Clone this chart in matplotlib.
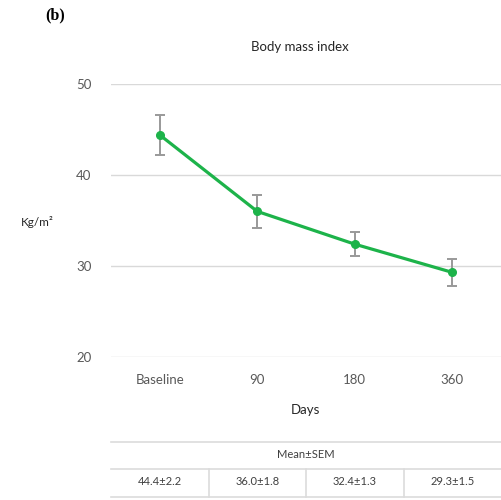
import matplotlib
matplotlib.use("Agg")
import matplotlib.pyplot as plt
import numpy as np

categories = ["Baseline", "90", "180", "360"]
means = [44.4, 36.0, 32.4, 29.3]
sems = [2.2, 1.8, 1.3, 1.5]
yticks = [20, 30, 40, 50]
table_header = "Mean±SEM"
table_values = ["44.4±2.2", "36.0±1.8", "32.4±1.3", "29.3±1.5"]

plt.rcParams['font.family'] = ['Lato', 'DejaVu Sans']

fig = plt.figure(figsize=(5.01, 5.0), dpi=100)
W, H = 501, 500
def fx(px): return px / W
def fy(py): return 1 - py / H

ax = fig.add_axes([fx(111), fy(357), fx(501) - fx(111), fy(84) - fy(357)])
x = np.arange(len(categories))
ax.errorbar(x, means, yerr=sems, fmt='none', ecolor='#999999', elinewidth=1.4,
            capsize=3.5, capthick=1.4, zorder=2)
ax.plot(x, means, color='#1db34a', lw=2.3, marker='o', ms=5.5, zorder=3)
ax.set_xlim(-0.5, 3.5)
ax.set_ylim(20, 50)
ax.set_yticks(yticks)
ax.set_xticks(x)
ax.set_xticklabels(categories)
ax.grid(axis='y', color='#d9d9d9', lw=1)
ax.set_axisbelow(True)
for s in ax.spines.values():
    s.set_visible(False)
ax.tick_params(length=0, labelsize=9.5, labelcolor='#595959', pad=14)
ax.tick_params(axis='x', pad=12)

fig.text(fx(300), fy(47), "Body mass index", ha='center', va='center', fontsize=9.5, color='#262626')
fig.text(fx(55), fy(15), "(b)", ha='center', va='center', fontsize=11.5, fontweight='bold',
         family=['Liberation Serif', 'DejaVu Serif'])
fig.text(fx(37), fy(222), "Kg/m²", ha='center', va='center', fontsize=8.5, color='#262626')
fig.text(fx(305), fy(410), "Days", ha='center', va='center', fontsize=9.5, color='#262626')

# table
tax = fig.add_axes([fx(111), fy(500), fx(501) - fx(111), fy(440) - fy(500)])
tax.set_xlim(-0.5, 3.5)
tax.set_ylim(500, 440)
tax.axis('off')
lc = '#dcdcdc'
for yy in [442, 469, 497]:
    tax.plot([-0.5, 3.5], [yy, yy], color=lc, lw=1.2, clip_on=False)
for xx in [0.5, 1.5, 2.5]:
    tax.plot([xx, xx], [469, 497], color=lc, lw=1.2, clip_on=False)
tax.text(1.5, 455, table_header, ha='center', va='center', fontsize=8, color='#404040')
for i, v in enumerate(table_values):
    tax.text(i, 482, v, ha='center', va='center', fontsize=8, color='#404040')

fig.savefig("out.png", dpi=100)
